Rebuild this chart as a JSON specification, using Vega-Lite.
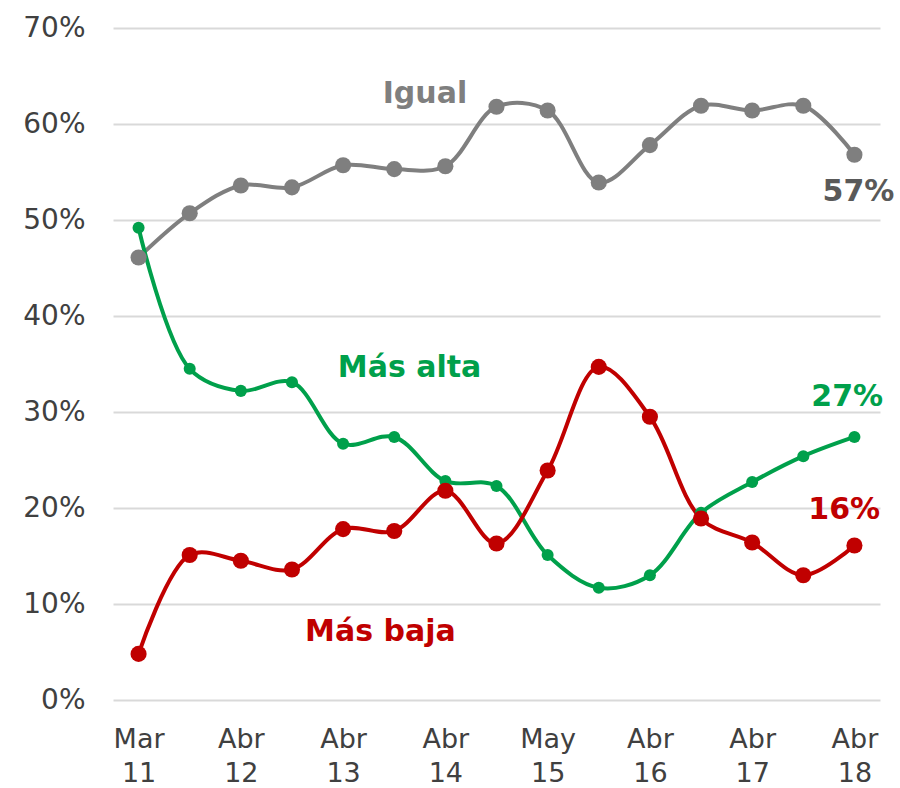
{
  "$schema": "https://vega.github.io/schema/vega-lite/v6.json",
  "width": 767,
  "height": 672,
  "autosize": {"type": "none"},
  "padding": {"left": 113, "top": 28, "right": 20, "bottom": 88},
  "background": "white",
  "config": {"view": {"stroke": null}, "font": "DejaVu Sans"},
  "datasets": {
    "series": [
      {"i": 0, "serie": "Igual", "v": 0.461},
      {"i": 1, "serie": "Igual", "v": 0.507},
      {"i": 2, "serie": "Igual", "v": 0.536},
      {"i": 3, "serie": "Igual", "v": 0.534},
      {"i": 4, "serie": "Igual", "v": 0.557},
      {"i": 5, "serie": "Igual", "v": 0.553},
      {"i": 6, "serie": "Igual", "v": 0.556},
      {"i": 7, "serie": "Igual", "v": 0.618},
      {"i": 8, "serie": "Igual", "v": 0.614},
      {"i": 9, "serie": "Igual", "v": 0.539},
      {"i": 10, "serie": "Igual", "v": 0.578},
      {"i": 11, "serie": "Igual", "v": 0.619},
      {"i": 12, "serie": "Igual", "v": 0.614},
      {"i": 13, "serie": "Igual", "v": 0.619},
      {"i": 14, "serie": "Igual", "v": 0.568},
      {"i": 0, "serie": "Más alta", "v": 0.492},
      {"i": 1, "serie": "Más alta", "v": 0.345},
      {"i": 2, "serie": "Más alta", "v": 0.322},
      {"i": 3, "serie": "Más alta", "v": 0.331},
      {"i": 4, "serie": "Más alta", "v": 0.267},
      {"i": 5, "serie": "Más alta", "v": 0.274},
      {"i": 6, "serie": "Más alta", "v": 0.228},
      {"i": 7, "serie": "Más alta", "v": 0.223},
      {"i": 8, "serie": "Más alta", "v": 0.151},
      {"i": 9, "serie": "Más alta", "v": 0.117},
      {"i": 10, "serie": "Más alta", "v": 0.130},
      {"i": 11, "serie": "Más alta", "v": 0.195},
      {"i": 12, "serie": "Más alta", "v": 0.227},
      {"i": 13, "serie": "Más alta", "v": 0.254},
      {"i": 14, "serie": "Más alta", "v": 0.274},
      {"i": 0, "serie": "Más baja", "v": 0.048},
      {"i": 1, "serie": "Más baja", "v": 0.151},
      {"i": 2, "serie": "Más baja", "v": 0.145},
      {"i": 3, "serie": "Más baja", "v": 0.136},
      {"i": 4, "serie": "Más baja", "v": 0.178},
      {"i": 5, "serie": "Más baja", "v": 0.176},
      {"i": 6, "serie": "Más baja", "v": 0.218},
      {"i": 7, "serie": "Más baja", "v": 0.163},
      {"i": 8, "serie": "Más baja", "v": 0.239},
      {"i": 9, "serie": "Más baja", "v": 0.347},
      {"i": 10, "serie": "Más baja", "v": 0.295},
      {"i": 11, "serie": "Más baja", "v": 0.189},
      {"i": 12, "serie": "Más baja", "v": 0.164},
      {"i": 13, "serie": "Más baja", "v": 0.130},
      {"i": 14, "serie": "Más baja", "v": 0.161}
    ],
    "labels": [
      {"x": 5.6, "y": 0.631, "txt": "Igual", "serie": "Igual", "c": "#7f7f7f"},
      {"x": 5.3, "y": 0.346, "txt": "Más alta", "serie": "Más alta", "c": "#00a04b"},
      {"x": 4.73, "y": 0.071, "txt": "Más baja", "serie": "Más baja", "c": "#c00000"},
      {"x": 14.08, "y": 0.529, "txt": "57%", "serie": "Igual", "c": "#595959"},
      {"x": 13.86, "y": 0.316, "txt": "27%", "serie": "Más alta", "c": "#00a04b"},
      {"x": 13.8, "y": 0.198, "txt": "16%", "serie": "Más baja", "c": "#c00000"}
    ]
  },
  "layer": [
    {
      "data": {"name": "series"},
      "mark": {"type": "line", "interpolate": "catmull-rom", "strokeWidth": 4},
      "encoding": {
        "x": {
          "field": "i", "type": "quantitative",
          "scale": {"domain": [-0.5, 14.5], "nice": false, "zero": false},
          "axis": {
            "values": [0, 2, 4, 6, 8, 10, 12, 14],
            "labelExpr": "[['Mar','11'],['Abr','12'],['Abr','13'],['Abr','14'],['May','15'],['Abr','16'],['Abr','17'],['Abr','18']][datum.value/2]",
            "title": null, "grid": false, "domain": false, "ticks": false,
            "labelFontSize": 27, "labelColor": "#404040", "labelPadding": 26,
            "labelLineHeight": 34, "labelFont": "DejaVu Sans"
          }
        },
        "y": {
          "field": "v", "type": "quantitative",
          "scale": {"domain": [0, 0.7], "nice": false},
          "axis": {
            "values": [0, 0.1, 0.2, 0.3, 0.4, 0.5, 0.6, 0.7],
            "format": ".0%", "title": null, "domain": false, "ticks": false,
            "gridColor": "#d9d9d9", "gridWidth": 2,
            "labelFontSize": 28, "labelColor": "#404040", "labelPadding": 28,
            "labelFont": "DejaVu Sans"
          }
        },
        "color": {
          "field": "serie", "type": "nominal",
          "scale": {"domain": ["Igual", "Más alta", "Más baja"], "range": ["#7f7f7f", "#00a04b", "#c00000"]},
          "legend": null
        },
        "detail": {"field": "serie"}
      }
    },
    {
      "data": {"name": "series"},
      "mark": {"type": "circle", "opacity": 1},
      "encoding": {
        "x": {"field": "i", "type": "quantitative"},
        "y": {"field": "v", "type": "quantitative"},
        "color": {"field": "serie", "type": "nominal", "legend": null},
        "size": {"condition": {"test": "datum.serie === 'Más alta'", "value": 145}, "value": 260}
      }
    },
    {
      "data": {"name": "labels"},
      "mark": {"type": "text", "fontWeight": "bold", "fontSize": 30, "align": "center", "baseline": "middle", "font": "DejaVu Sans"},
      "encoding": {
        "x": {"field": "x", "type": "quantitative"},
        "y": {"field": "y", "type": "quantitative"},
        "text": {"field": "txt"},
        "color": {"field": "c", "type": "nominal", "scale": null, "legend": null}
      }
    }
  ]
}
